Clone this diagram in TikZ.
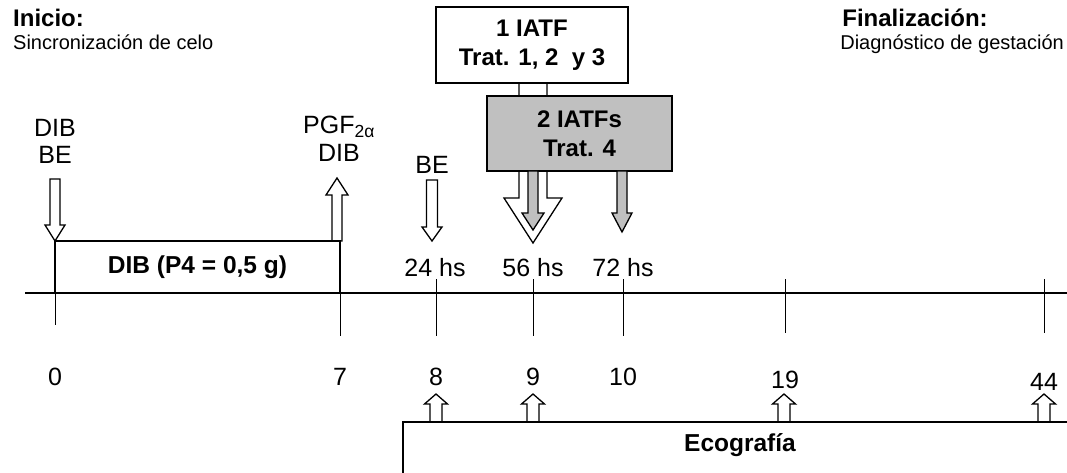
\documentclass[tikz,border=0pt]{standalone}
\usepackage{fontspec}
\setmainfont{Liberation Sans}
\definecolor{boxgray}{RGB}{192,192,192}
\begin{document}
\begin{tikzpicture}[x=1pt, y=-1pt]
	\tikzset{box/.style={draw, line width=1.5pt, align=center, inner sep=0pt,
		font=\bfseries\fontsize{24}{29}\selectfont},
		lbl/.style={inner sep=0pt, align=center, font=\fontsize{25}{27}\selectfont},
		blk/.style={draw, line width=1.3pt, line join=miter}};
	\useasboundingbox (0,0) rectangle (1067,473);

	% titulos
	\node[anchor=base west, inner sep=0pt, font=\bfseries\fontsize{24}{28}\selectfont] (inicio) at (13,27) {Inicio:};
	\node[anchor=base west, inner sep=0pt, font=\fontsize{20}{24}\selectfont] (sincro) at (13,50) {Sincronización de celo};
	\node[anchor=base east, inner sep=0pt, font=\fontsize{20}{24}\selectfont] (diag) at (1064,50) {Diagnóstico de gestación};
	\node[anchor=base west, inner sep=0pt, font=\bfseries\fontsize{24}{28}\selectfont] (final) at ([xshift=2pt]diag.base west |- 0,27) {Finalización:};

	% flecha grande (1 IATF)
	\filldraw[blk, fill=white] (519,83) -- (547,83) -- (547,198) -- (562,198) -- (533,243)
		-- (504,198) -- (519,198) -- cycle;

	\node[box, fill=white, minimum width=192pt, minimum height=76pt] (iatf1) at (532,45) {1 IATF\\Trat. 1, 2\ \ y 3};
	\node[box, fill=boxgray, minimum width=185pt, minimum height=75pt] (iatf2) at (579.5,133.5) {2 IATFs\\Trat. 4};

	% flechas de bloque
	\foreach \cx/\ya/\yb/\yc/\s/\h/\fc in {55/179/225/241/5/10/white, 337/241/195/178/5/11/white,
	432/180/227/241/5.5/10/white, 533/171/213/230/5/11/boxgray, 622/171/213/232/5/10/boxgray,
	436/422/404/394/6/11.5/white, 533/422/404/394/6/11.5/white, 784/422/404/394/6/11.5/white,
	1044/422/404/394/6/11.5/white}{
		\filldraw[blk, fill=\fc] (\cx-\s,\ya) -- (\cx+\s,\ya) -- (\cx+\s,\yb) -- (\cx+\h,\yb) -- (\cx,\yc)
			-- (\cx-\h,\yb) -- (\cx-\s,\yb) -- cycle;
	}

	% etiquetas
	\node[lbl] (dibbe) at (55,141) {DIB\\BE};
	\node[lbl, font=\fontsize{25}{28}\selectfont] (pgf) at (339,139) {PGF\textsubscript{2α}\\DIB};
	\node[lbl] (be) at (432,165) {BE};
	\node[lbl] (h24) at (435,268) {24 hs};
	\node[lbl] (h56) at (533,268) {56 hs};
	\node[lbl] (h72) at (623,268) {72 hs};

	% linea de tiempo
	\node[draw, line width=1.2pt, minimum width=285pt, minimum height=52pt,
		font=\bfseries\fontsize{24.5}{28}\selectfont] (dib) at (197.5,267) {DIB (P4 = 0,5 g)};
	\coordinate (t0) at (25,293);
	\coordinate (t1) at (1067,293);
	\draw[line width=2.5pt] (t0) -- (t1);
	\foreach \x/\ya/\yb/\n/\ny in {55/293/325/0/377, 340/241/336/7/377, 436/279/336/8/377,
	533/279/336/9/377, 623/279/336/10/377, 785/279/333/19/380, 1044/279/333/44/382}{
		\draw[line width=1pt] (\x,\ya) -- (\x,\yb);
		\node[lbl] (d\n) at (\x,\ny) {\n};
	}

	% ecografia
	\draw[line width=1.5pt] (403,473) -- (403,422) -- (1067,422);
	\node[lbl, font=\bfseries\fontsize{24.5}{28}\selectfont] (eco) at (740,445) {Ecografía};
\end{tikzpicture}
\end{document}
